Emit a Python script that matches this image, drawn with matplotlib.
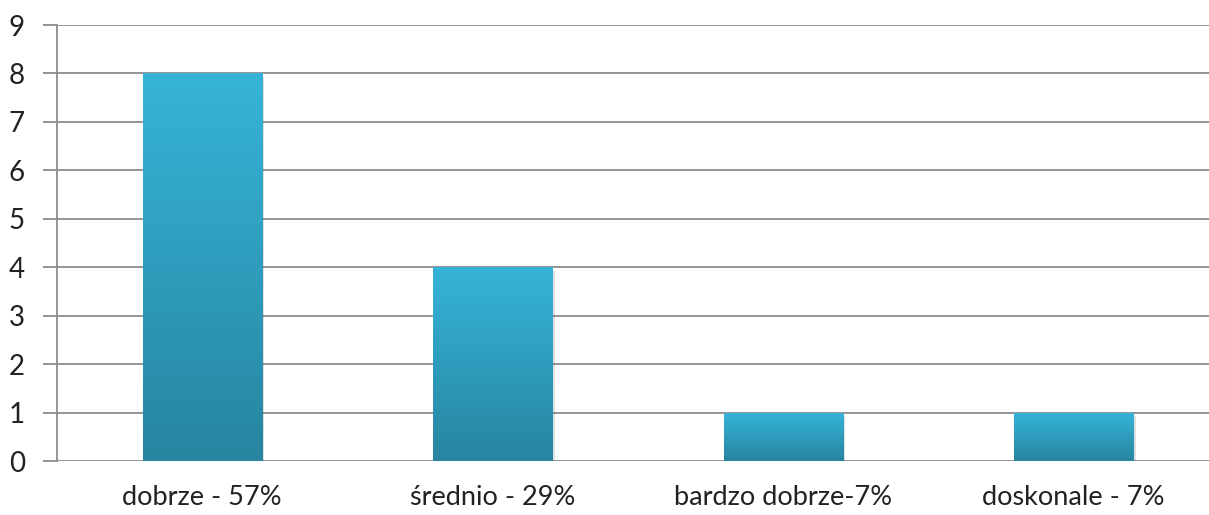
import numpy as np
import matplotlib.pyplot as plt
from matplotlib.colors import LinearSegmentedColormap
from matplotlib.patches import Rectangle

categories = ["dobrze - 57%", "średnio - 29%", "bardzo dobrze-7%", "doskonale - 7%"]
values = [8, 4, 1, 1]
y_ticks = list(range(0, 10))

plt.rcParams['font.family'] = ['Lato', 'DejaVu Sans']

fig = plt.figure(figsize=(12.09, 5.15), dpi=100)
ax = fig.add_axes([57 / 1209, 54 / 515, 1162 / 1209, 436 / 515])

grid_color = '#8c8c8c'
for y in y_ticks:
    ax.axhline(y, color=grid_color, lw=1.3, zorder=1)

cmap = LinearSegmentedColormap.from_list('bar', ['#2785a0', '#36b4d8'])
grad = np.linspace(0, 1, 256).reshape(-1, 1)
width = 0.41
for i, v in enumerate(values):
    # soft shadow
    sh = Rectangle((i - width / 2 + 0.008, -0.07), width, v, facecolor='#000000',
                   alpha=0.12, lw=0, zorder=2)
    ax.add_patch(sh)
    rect = Rectangle((i - width / 2, 0), width, v, facecolor='none', lw=0, zorder=3)
    ax.add_patch(rect)
    im = ax.imshow(grad, cmap=cmap, origin='lower', aspect='auto',
                   extent=(i - width / 2, i + width / 2, 0, v), zorder=3)
    im.set_clip_path(rect)

ax.set_xlim(-0.5, len(categories) - 0.5)
ax.set_ylim(0, 9)
ax.set_yticks(y_ticks)
ax.set_xticks(range(len(categories)))
ax.set_xticklabels(categories, fontsize=19.5, color='#222222')
ax.tick_params(axis='x', length=0, pad=17)
ax.tick_params(axis='y', length=10, width=1.3, color=grid_color, labelsize=20,
               labelcolor='#222222', pad=13)

for s in ['top', 'right', 'bottom']:
    ax.spines[s].set_visible(False)
ax.spines['left'].set_color(grid_color)
ax.spines['left'].set_linewidth(1.3)
ax.spines['left'].set_zorder(4)

fig.savefig('out.png', dpi=100, facecolor='white')
